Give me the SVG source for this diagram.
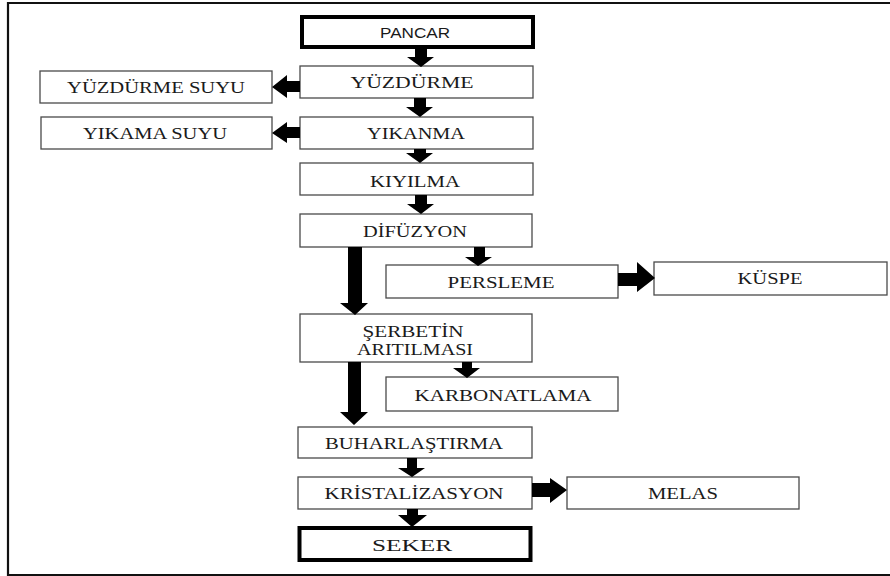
<svg xmlns="http://www.w3.org/2000/svg" width="890" height="576" viewBox="0 0 890 576">
  <style>
    .box { fill: #ffffff; stroke: #4a4a4a; stroke-width: 1.3; }
    .thick { fill: #ffffff; stroke: #000000; stroke-width: 4; }
    .lbl { font-family: "Liberation Serif", "Times New Roman", serif; font-size: 16.5px; fill: #1a1a1a; text-anchor: middle; }
    .sans { font-family: "Liberation Sans", Arial, sans-serif; font-size: 15.5px; fill: #1a1a1a; text-anchor: middle; }
    .arr { fill: #000000; }
  </style>

  <!-- frame -->
  <path d="M890 3 H8 V575 H890" fill="none" stroke="#111" stroke-width="2.2"/>

  <g id="pancar">
    <rect class="thick" x="302" y="17" width="231" height="30"/>
    <text class="sans" x="415" y="38" textLength="70" lengthAdjust="spacingAndGlyphs">PANCAR</text>
  </g>
  <g id="yuzdurme">
    <rect class="box" x="300" y="66" width="233" height="32"/>
    <text class="lbl" x="412" y="88" textLength="123" lengthAdjust="spacingAndGlyphs">YÜZDÜRME</text>
  </g>
  <g id="yuzdurme-suyu">
    <rect class="box" x="40" y="71" width="232" height="32"/>
    <text class="lbl" x="156" y="93" textLength="178" lengthAdjust="spacingAndGlyphs">YÜZDÜRME SUYU</text>
  </g>
  <g id="yikanma">
    <rect class="box" x="300" y="117" width="233" height="32"/>
    <text class="lbl" x="416" y="139" textLength="98" lengthAdjust="spacingAndGlyphs">YIKANMA</text>
  </g>
  <g id="yikama-suyu">
    <rect class="box" x="41" y="117" width="231" height="32"/>
    <text class="lbl" x="155" y="139" textLength="144" lengthAdjust="spacingAndGlyphs">YIKAMA SUYU</text>
  </g>
  <g id="kiyilma">
    <rect class="box" x="300" y="163" width="233" height="32"/>
    <text class="lbl" x="415" y="187" textLength="90" lengthAdjust="spacingAndGlyphs">KIYILMA</text>
  </g>
  <g id="difuzyon">
    <rect class="box" x="300" y="214" width="232" height="33"/>
    <text class="lbl" x="415" y="237" textLength="104" lengthAdjust="spacingAndGlyphs">DİFÜZYON</text>
  </g>
  <g id="persleme">
    <rect class="box" x="386" y="265" width="232" height="33"/>
    <text class="lbl" x="501" y="288" textLength="107" lengthAdjust="spacingAndGlyphs">PERSLEME</text>
  </g>
  <g id="kuspe">
    <rect class="box" x="654" y="262" width="233" height="33"/>
    <text class="lbl" x="770" y="284" textLength="65" lengthAdjust="spacingAndGlyphs">KÜSPE</text>
  </g>
  <g id="serbetin-aritilmasi">
    <rect class="box" x="300" y="314" width="232" height="48"/>
    <text class="lbl" x="413" y="337" textLength="101" lengthAdjust="spacingAndGlyphs">ŞERBETİN</text>
    <text class="lbl" x="415" y="355" textLength="116" lengthAdjust="spacingAndGlyphs">ARITILMASI</text>
  </g>
  <g id="karbonatlama">
    <rect class="box" x="386" y="377" width="232" height="34"/>
    <text class="lbl" x="503" y="401" textLength="177" lengthAdjust="spacingAndGlyphs">KARBONATLAMA</text>
  </g>
  <g id="buharlastirma">
    <rect class="box" x="298" y="427" width="234" height="31"/>
    <text class="lbl" x="414" y="449" textLength="178" lengthAdjust="spacingAndGlyphs">BUHARLAŞTIRMA</text>
  </g>
  <g id="kristalizasyon">
    <rect class="box" x="298" y="477" width="234" height="32"/>
    <text class="lbl" x="414" y="499" textLength="179" lengthAdjust="spacingAndGlyphs">KRİSTALİZASYON</text>
  </g>
  <g id="melas">
    <rect class="box" x="567" y="477" width="232" height="32"/>
    <text class="lbl" x="683" y="499" textLength="70" lengthAdjust="spacingAndGlyphs">MELAS</text>
  </g>
  <g id="seker">
    <rect class="thick" x="299.5" y="528" width="231" height="32"/>
    <text class="lbl" x="412" y="551" textLength="80" lengthAdjust="spacingAndGlyphs">SEKER</text>
  </g>

  <g id="connectors" class="arr">
    <!-- down arrows on the main line -->
    <polygon points="415,48 427,48 427,57 434,57 421,67 407,57 415,57"/>
    <polygon points="414,98 426,98 426,107 433,107 420,117 406,107 414,107"/>
    <polygon points="414,149 426,149 426,153 433,153 420,163 406,153 414,153"/>
    <polygon points="415,195 427,195 427,204 434,204 421,214 407,204 415,204"/>
    <!-- side outputs to the left -->
    <polygon points="300,81 287,81 287,75 272,87 287,98 287,92 300,92"/>
    <polygon points="300,127 287,127 287,122 272,133 287,143 287,138 300,138"/>
    <!-- DİFÜZYON to PERSLEME -->
    <polygon points="474,247 485,247 485,257 492,257 478,266 465,257 474,257"/>
    <!-- PERSLEME to KÜSPE -->
    <polygon points="618,273 637,273 637,262 655,278 637,292 637,286 618,286"/>
    <!-- DİFÜZYON to ŞERBETİN ARITILMASI -->
    <polygon points="348,247 362,247 362,303 368,303 355,315 340,303 348,303"/>
    <!-- ŞERBETİN ARITILMASI to KARBONATLAMA -->
    <polygon points="462,362 472,362 472,368 480,368 467,378 453,368 462,368"/>
    <!-- ŞERBETİN ARITILMASI to BUHARLAŞTIRMA -->
    <polygon points="348,362 361,362 361,412 368,412 354,425 340,412 348,412"/>
    <!-- BUHARLAŞTIRMA to KRİSTALİZASYON -->
    <polygon points="407,458 417,458 417,468 425,468 412,477 398,468 407,468"/>
    <!-- KRİSTALİZASYON to MELAS -->
    <polygon points="532,483 550,483 550,478 567,490 550,503 550,497 532,497"/>
    <!-- KRİSTALİZASYON to SEKER -->
    <polygon points="407,509 418,509 418,515 427,515 412,527 398,515 407,515"/>
  </g>
</svg>
